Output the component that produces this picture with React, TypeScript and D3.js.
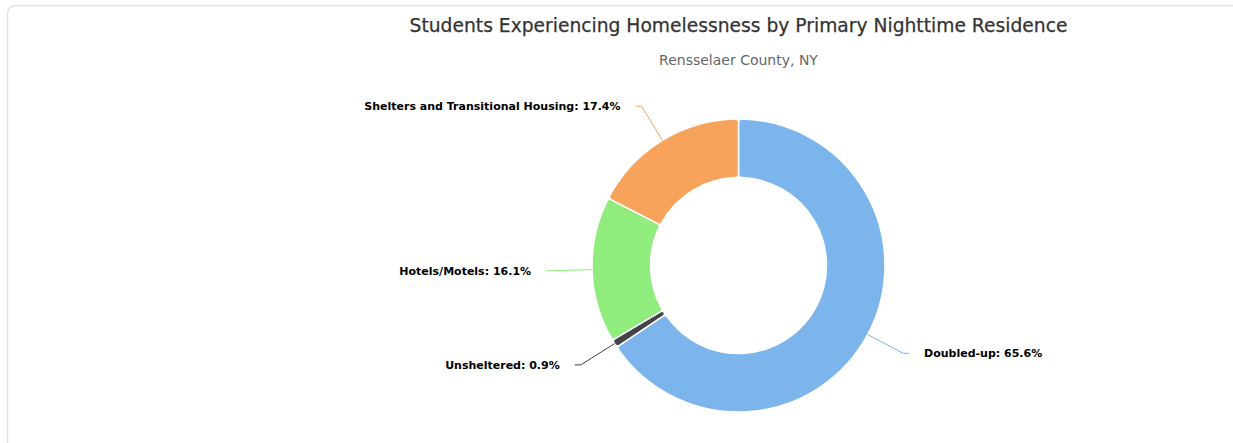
import React from "react";
import * as d3 from "d3";

const categories = ["Doubled-up", "Unsheltered", "Hotels/Motels", "Shelters and Transitional Housing"];
const values = [65.6, 0.9, 16.1, 17.4];
const colors = ["#7cb5ec", "#434348", "#90ed7d", "#f7a35c"];
const titleText = "Students Experiencing Homelessness by Primary Nighttime Residence";
const subtitleText = "Rensselaer County, NY";

const W = 1233;
const H = 443;
const cx = 738.5;
const cy = 265.5;
const outerR = 146.5;
const innerR = 88;

export default function App() {
  const pie = d3.pie<number>().sort(null).value((d) => d)(values);
  const arc = d3
    .arc<d3.PieArcDatum<number>>()
    .innerRadius(innerR)
    .outerRadius(outerR)
    .cornerRadius(3);

  const pt = (a: number, r: number) => [cx + r * Math.sin(a), cy - r * Math.cos(a)];
  const font = "'DejaVu Sans', Verdana, sans-serif";

  return (
    <svg
      width={W}
      height={H}
      style={{ position: "absolute", left: 0, top: 0, background: "#fff" }}
    >
      <rect x={7.5} y={5.5} width={1260} height={480} rx={8} fill="#fff" stroke="#e3e3e3" strokeWidth={1.5} />
      <text x={cx} y={32} textAnchor="middle" fontFamily={font} fontSize={18.7} fill="#333333" stroke="#333333" strokeWidth={0.25}>
        {titleText}
      </text>
      <text x={cx} y={65} textAnchor="middle" fontFamily={font} fontSize={14} fill="#666666">
        {subtitleText}
      </text>
      <g transform={`translate(${cx},${cy})`}>
        {pie.map((p, i) => (
          <path key={i} d={arc(p) as string} fill={colors[i]} stroke="#ffffff" strokeWidth={1.5} strokeLinejoin="round" />
        ))}
      </g>
      {pie.map((p, i) => {
        const mid = (p.startAngle + p.endAngle) / 2;
        const [x0, y0] = pt(mid, outerR);
        const [x1, y1] = pt(mid, outerR + 40);
        const right = Math.sin(mid) > 0;
        const dir = right ? 1 : -1;
        const x2 = x1 + dir * 6;
        const tx = x2 + dir * 15;
        return (
          <g key={"l" + i}>
            <path
              d={`M${x0},${y0}L${x1},${y1}L${x2},${y1}`}
              fill="none"
              stroke={colors[i]}
              strokeWidth={1}
            />
            <text
              x={tx}
              y={y1 + 4}
              textAnchor={right ? "start" : "end"}
              fontFamily={font}
              fontSize={11}
              fontWeight="bold"
              fill="#000000"
            >
              {`${categories[i]}: ${values[i].toFixed(1)}%`}
            </text>
          </g>
        );
      })}
    </svg>
  );
}
